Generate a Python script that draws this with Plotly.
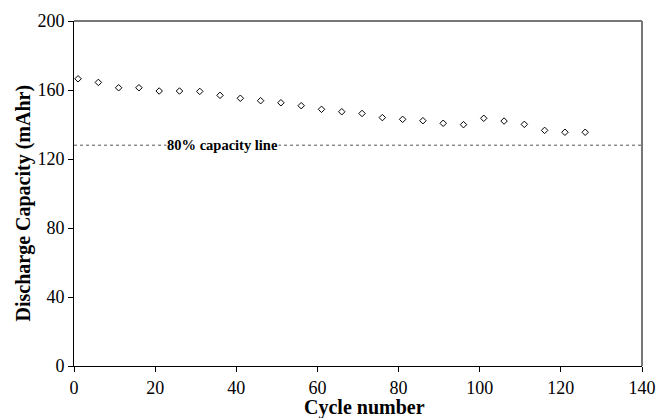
import plotly.graph_objects as go

cycles = [1, 6, 11, 16, 21, 26, 31, 36, 41, 46, 51, 56, 61, 66, 71, 76, 81, 86, 91, 96, 101, 106, 111, 116, 121, 126]
capacity = [166.5, 164.4, 161.3, 161.3, 159.4, 159.4, 159.2, 156.9, 155.2, 153.8, 152.6, 150.9, 148.8, 147.4,
            146.4, 144.0, 143.0, 142.2, 140.7, 139.9, 143.6, 142.0, 140.1, 136.6, 135.5, 135.5]
line_level = 128
line_label = "80% capacity line"
x_title = "Cycle number"
y_title = "Discharge Capacity (mAhr)"
x_ticks = [0, 20, 40, 60, 80, 100, 120, 140]
y_ticks = [0, 40, 80, 120, 160, 200]

fig = go.Figure()
fig.add_trace(go.Scatter(
    x=[0, 140], y=[line_level, line_level], mode="lines",
    line=dict(color="#555555", width=1, dash="dot"), hoverinfo="skip", showlegend=False))
fig.add_trace(go.Scatter(
    x=cycles, y=capacity, mode="markers",
    marker=dict(symbol="diamond-open", size=5, color="black", line=dict(width=1, color="black")),
    showlegend=False))

fig.add_annotation(x=36.7, y=line_level, text="<b>" + line_label + "</b>", showarrow=False,
                   font=dict(family="Liberation Serif", size=14.5, color="black"),
                   bgcolor="white", borderpad=0, xanchor="center", yanchor="middle")

# axis titles
fig.add_annotation(xref="paper", yref="paper", x=0.5, y=0, xshift=6, yshift=-41,
                   text="<b>" + x_title + "</b>", showarrow=False,
                   font=dict(family="Liberation Serif", size=20, color="black"),
                   xanchor="center", yanchor="middle")
fig.add_annotation(xref="paper", yref="paper", x=0, y=0.5, xshift=-51, yshift=-10,
                   text="<b>" + y_title + "</b>", showarrow=False, textangle=-90,
                   font=dict(family="Liberation Serif", size=20, color="black"),
                   xanchor="center", yanchor="middle")

# gray top and right frame
fig.add_shape(type="line", xref="paper", yref="paper", x0=0, x1=1, y0=1, y1=1,
              line=dict(color="#777777", width=2))
fig.add_shape(type="line", xref="paper", yref="paper", x0=1, x1=1, y0=0, y1=1,
              line=dict(color="#777777", width=2))

fig.update_layout(
    width=658, height=418,
    margin=dict(l=74, r=16, t=21, b=52, autoexpand=False),
    plot_bgcolor="white", paper_bgcolor="white",
    font=dict(family="Liberation Serif", color="black"),
    xaxis=dict(range=[0, 140], tickvals=x_ticks, showgrid=False, zeroline=False, automargin=False,
               showline=True, linecolor="black", linewidth=1, ticks="outside", ticklen=5,
               tickcolor="black", tickfont=dict(size=18)),
    yaxis=dict(range=[0, 200], tickvals=y_ticks, showgrid=False, zeroline=False, automargin=False,
               showline=True, linecolor="black", linewidth=1, ticks="outside", ticklen=5,
               tickcolor="black", tickfont=dict(size=18)),
)

fig.write_html("out.html")
